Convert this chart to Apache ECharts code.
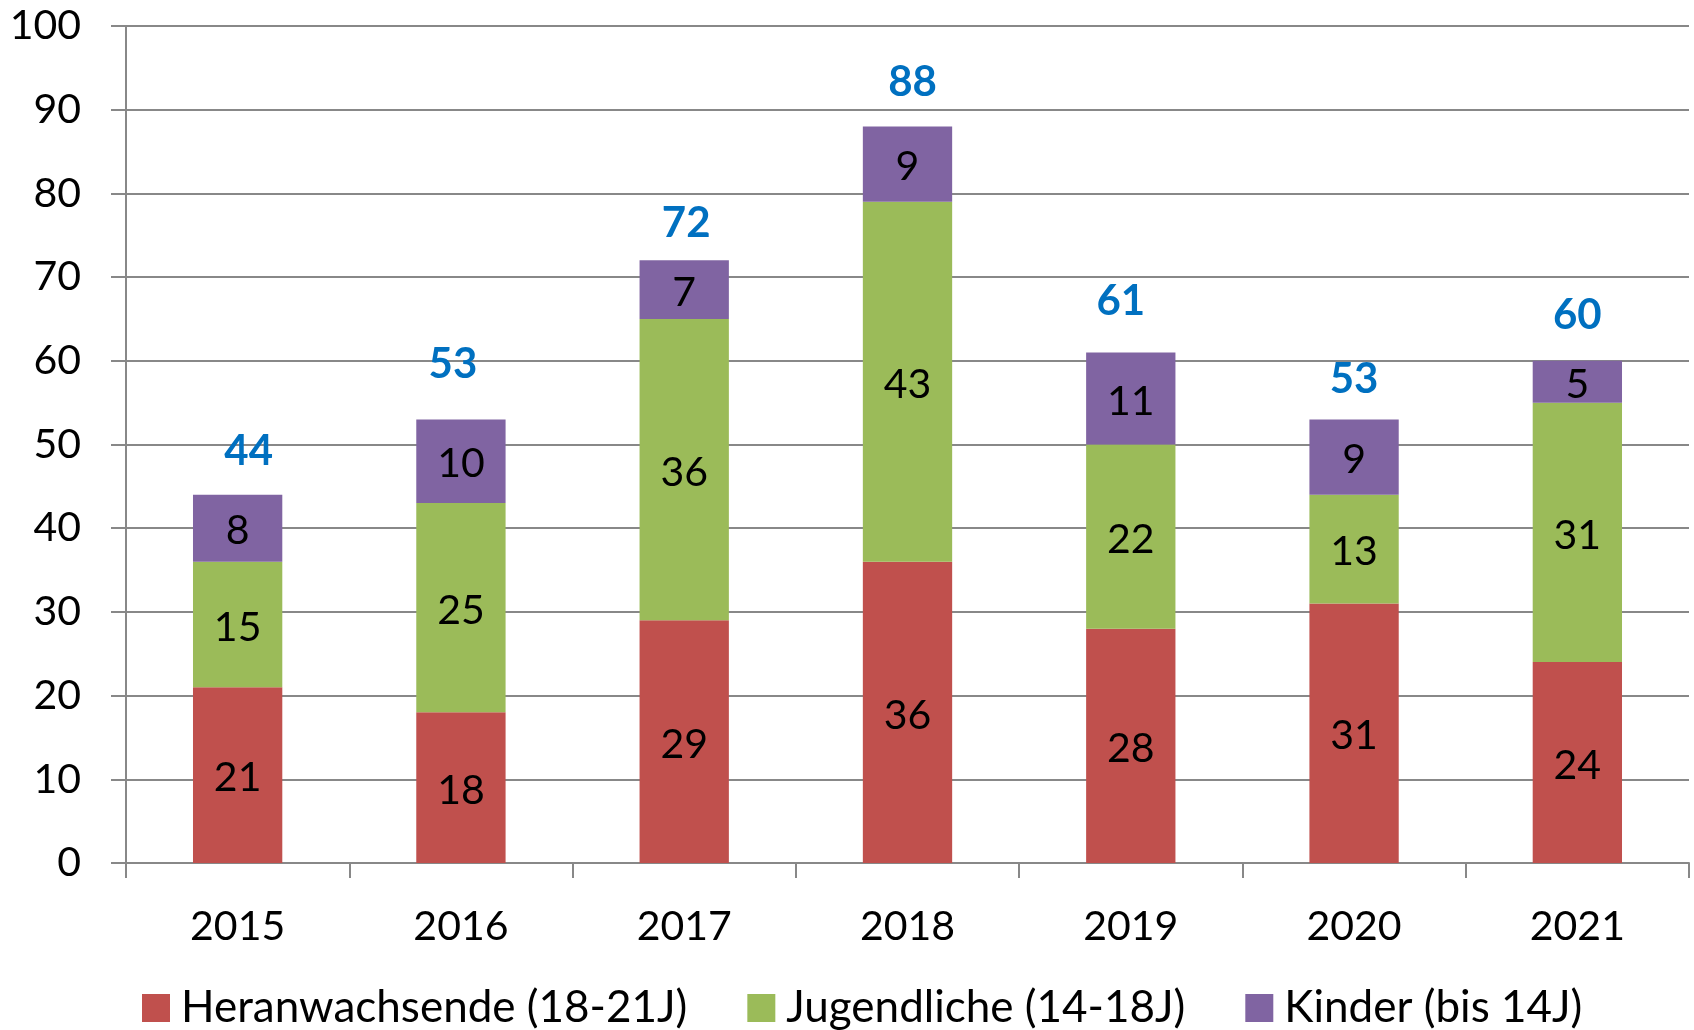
<!DOCTYPE html>
<html>
<head>
<meta charset="utf-8">
<script src="https://cdn.jsdelivr.net/npm/echarts@6/dist/echarts.min.js"></script>
<style>
html,body{margin:0;padding:0;background:#fff;}
#chart{width:1694px;height:1030px;}
</style>
</head>
<body>
<div id="chart"></div>
<script>
const years = ['2015','2016','2017','2018','2019','2020','2021'];
const heranwachsende = [21, 18, 29, 36, 28, 31, 24];
const jugendliche = [15, 25, 36, 43, 22, 13, 31];
const kinder = [8, 10, 7, 9, 11, 9, 5];
const totals = [44, 53, 72, 88, 61, 53, 60];
const seriesNames = ['Heranwachsende (18-21J)', 'Jugendliche (14-18J)', 'Kinder (bis 14J)'];
const yTicks = [0, 10, 20, 30, 40, 50, 60, 70, 80, 90, 100];
// hand-placed total labels in the original: small nudges (px)
const totalLabelNudges = [[11, 2], [-8, -9], [2, 9], [5, 2], [-10, -5], [0, 6], [0, 0]];

const FONT = 'Lato';
const chart = echarts.init(document.getElementById('chart'));
const segLabel = {
  show: true, position: 'inside', color: '#000', fontFamily: FONT, fontSize: 41, offset: [0, 3]
};
chart.setOption({
  animation: false,
  textStyle: { fontFamily: FONT },
  grid: { left: 126, right: 5, top: 26, bottom: 167 },
  legend: {
    top: 981, left: 137,
    itemWidth: 28, itemHeight: 28, itemGap: 60,
    icon: 'rect',
    textStyle: { fontFamily: FONT, fontSize: 44, color: '#000', padding: [0, 0, 0, 6] },
    data: seriesNames
  },
  xAxis: {
    type: 'category', data: years,
    axisLine: { lineStyle: { color: '#888', width: 2 } },
    axisTick: { show: true, length: 15, lineStyle: { color: '#888', width: 2 } },
    axisLabel: { color: '#000', fontSize: 41, margin: 43, fontFamily: FONT }
  },
  yAxis: {
    type: 'value', min: yTicks[0], max: yTicks[yTicks.length - 1], interval: 10,
    axisLine: { show: true, lineStyle: { color: '#888', width: 2 } },
    axisTick: { show: true, length: 15, lineStyle: { color: '#888', width: 2 } },
    splitLine: { lineStyle: { color: '#888', width: 2 } },
    axisLabel: { color: '#000', fontSize: 41, margin: 45, fontFamily: FONT }
  },
  series: [
    { name: seriesNames[0], type: 'bar', stack: 't', data: heranwachsende, barWidth: '40%',
      itemStyle: { color: '#C0504D' }, label: segLabel },
    { name: seriesNames[1], type: 'bar', stack: 't', data: jugendliche, barWidth: '40%',
      itemStyle: { color: '#9BBB59' }, label: segLabel },
    { name: seriesNames[2], type: 'bar', stack: 't', data: kinder, barWidth: '40%',
      itemStyle: { color: '#8064A2' }, label: segLabel },
    { name: 'Summe', type: 'line',
      data: totals.map((v, i) => ({ value: v, label: { offset: totalLabelNudges[i] } })),
      symbol: 'circle', symbolSize: 1, showSymbol: true,
      itemStyle: { color: 'rgba(0,0,0,0)' },
      lineStyle: { opacity: 0 }, silent: true,
      label: { show: true, position: 'top', distance: 24, color: '#0070C0',
        fontWeight: 'bold', fontSize: 42, fontFamily: FONT } }
  ]
});
</script>
</body>
</html>
